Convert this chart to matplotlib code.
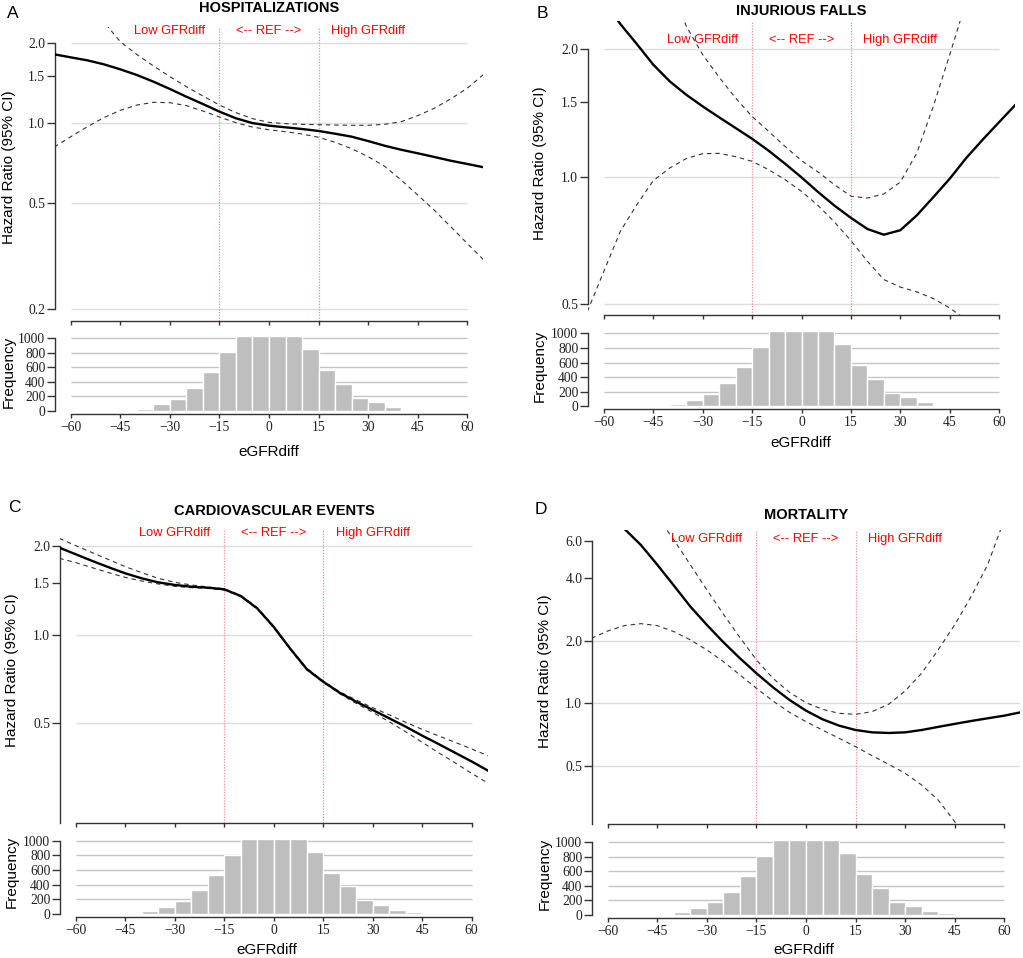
import numpy as np
import matplotlib
matplotlib.use('Agg')
import matplotlib.pyplot as plt
from matplotlib.ticker import NullLocator

W, H = 1023, 958

# eGFRdiff grid at which the curves were read
x_grid = [-65, -60, -55, -50, -45, -40, -35, -30, -25, -20, -15, -10, -5, 0,
          5, 10, 15, 20, 25, 30, 35, 40, 45, 50, 55, 60, 65]

# histogram of eGFRdiff (same in every panel)
hist_edges = [-45, -40, -35, -30, -25, -20, -15, -10, -5, 0, 5, 10, 15, 20, 25, 30, 35, 40, 45]
hist_counts = [10, 35, 92, 170, 320, 535, 808, 1030, 1030, 1030, 1030, 850, 560, 375, 183, 123, 55, 18]

# A - hospitalizations
hosp_hr = [1.813, 1.766, 1.721, 1.663, 1.592, 1.516, 1.431, 1.343, 1.256, 1.179, 1.104, 1.042, 1.0, 0.978,
           0.964, 0.950, 0.934, 0.912, 0.889, 0.856, 0.822, 0.794, 0.770, 0.746, 0.722, 0.702, 0.682]
hosp_hi = [3.8, 3.3, 2.85, 2.4, 2.02, 1.81, 1.64, 1.494, 1.370, 1.264, 1.169, 1.094, 1.039, 1.006,
           0.995, 0.989, 0.986, 0.983, 0.981, 0.981, 0.989, 1.012, 1.066, 1.136, 1.232, 1.351, 1.525]
hosp_lo = [0.813, 0.889, 0.969, 1.048, 1.117, 1.169, 1.197, 1.193, 1.163, 1.110, 1.054, 1.003, 0.966, 0.944,
           0.928, 0.910, 0.884, 0.847, 0.801, 0.748, 0.688, 0.611, 0.537, 0.471, 0.408, 0.353, 0.306]

# B - injurious falls
falls_hr = [2.95, 2.6, 2.296, 2.059, 1.840, 1.680, 1.562, 1.466, 1.381, 1.303, 1.229, 1.152, 1.073, 0.996,
            0.920, 0.854, 0.799, 0.752, 0.729, 0.747, 0.810, 0.894, 0.989, 1.107, 1.223, 1.346, 1.480]
falls_hi = [6.6, 5.8, 5.0, 4.3, 3.6, 2.9, 2.27, 1.943, 1.718, 1.534, 1.388, 1.280, 1.179, 1.091,
            1.026, 0.957, 0.899, 0.890, 0.910, 0.971, 1.137, 1.466, 1.943, 2.6, 3.4, 4.3, 5.4]
falls_lo = [0.48, 0.597, 0.742, 0.858, 0.978, 1.048, 1.103, 1.133, 1.135, 1.115, 1.087, 1.039, 0.984, 0.923,
            0.855, 0.781, 0.706, 0.631, 0.571, 0.548, 0.534, 0.515, 0.489, 0.459, 0.42, 0.38, 0.34]

# C - cardiovascular events
cv_hr = [1.974, 1.874, 1.779, 1.693, 1.615, 1.553, 1.505, 1.475, 1.455, 1.444, 1.425, 1.353, 1.228, 1.062,
         0.896, 0.764, 0.692, 0.635, 0.592, 0.555, 0.520, 0.487, 0.454, 0.425, 0.397, 0.371, 0.345]
cv_hi = [2.123, 2.005, 1.898, 1.797, 1.702, 1.623, 1.553, 1.505, 1.475, 1.452, 1.432, 1.360, 1.235, 1.068,
         0.901, 0.769, 0.696, 0.640, 0.600, 0.565, 0.534, 0.504, 0.477, 0.453, 0.431, 0.409, 0.388]
cv_lo = [1.816, 1.756, 1.688, 1.623, 1.565, 1.521, 1.486, 1.459, 1.444, 1.436, 1.418, 1.346, 1.221, 1.056,
         0.891, 0.759, 0.689, 0.630, 0.584, 0.545, 0.506, 0.468, 0.431, 0.397, 0.367, 0.338, 0.313]

# D - mortality
mort_hr = [9.5, 8.0, 6.9, 5.77, 4.63, 3.68, 2.915, 2.380, 1.965, 1.646, 1.394, 1.194, 1.038, 0.922,
           0.838, 0.781, 0.744, 0.725, 0.720, 0.725, 0.744, 0.770, 0.796, 0.822, 0.847, 0.872, 0.905]
mort_hi = [18.0, 15.0, 12.5, 10.0, 7.9, 6.10, 4.63, 3.51, 2.68, 2.07, 1.616, 1.319, 1.129, 1.007,
           0.936, 0.895, 0.885, 0.912, 0.989, 1.146, 1.394, 1.805, 2.380, 3.26, 4.63, 7.61, 9.5]
mort_lo = [2.054, 2.227, 2.363, 2.415, 2.363, 2.211, 2.017, 1.805, 1.586, 1.369, 1.181, 1.026, 0.905, 0.816,
           0.744, 0.679, 0.619, 0.560, 0.509, 0.461, 0.405, 0.343, 0.270, 0.21, 0.17, 0.14, 0.11]

titles = ['HOSPITALIZATIONS', 'INJURIOUS FALLS', 'CARDIOVASCULAR EVENTS', 'MORTALITY']
letters = ['A', 'B', 'C', 'D']
curves = [(hosp_hr, hosp_hi, hosp_lo), (falls_hr, falls_hi, falls_lo),
          (cv_hr, cv_hi, cv_lo), (mort_hr, mort_hi, mort_lo)]
zone_labels = ['Low GFRdiff', '<-- REF -->', 'High GFRdiff']
zone_pos = [-30, 0, 30]
freq_ticks = [0, 200, 400, 600, 800, 1000]
freq_grid = [200, 400, 600, 800, 1000]

# layout of each panel, in pixels of the 1023x958 picture
panels = [
    dict(l=55, r=483, top=27, bot=321, ref=2.0, ref_px=43, dec=266,
         ticks=[0.2, 0.5, 1.0, 1.5, 2.0], grid=[0.2, 0.5, 1.0, 2.0], spine=(0.2, 2.0), gfull=False,
         txt_y=2.21, h_top=335, h_bot=414, title=(269, 8), letter=(13, 14),
         ylab=(9, 167), flab=(9, 372), xlab=(269, 452)),
    dict(l=588, r=1015, top=21, bot=315, ref=2.0, ref_px=49.3, dec=423,
         ticks=[0.5, 1.0, 1.5, 2.0], grid=[0.5, 1.0, 2.0], spine=(0.5, 2.0), gfull=False,
         txt_y=2.10, h_top=330.4, h_bot=409.3, title=(801, 11), letter=(542, 14),
         ylab=(540, 163), flab=(540, 366), xlab=(801, 443)),
    dict(l=60, r=487.5, top=529, bot=822.7, ref=2.0, ref_px=546, dec=294.5,
         ticks=[0.5, 1.0, 1.5, 2.0], grid=[0.5, 1.0, 2.0], spine=(None, 2.0), gfull=False,
         txt_y=2.21, h_top=838, h_bot=916.7, title=(274, 511), letter=(14, 508),
         ylab=(12, 670), flab=(12, 872), xlab=(267, 950)),
    dict(l=592, r=1020, top=530, bot=824.3, ref=1.0, ref_px=703.3, dec=208,
         ticks=[0.5, 1.0, 2.0, 4.0, 6.0], grid=[0.5, 1.0, 2.0], spine=(None, 6.0), gfull=True,
         txt_y=6.17, h_top=839.4, h_bot=917.7, title=(806, 515), letter=(541, 509),
         ylab=(545, 671), flab=(545, 874), xlab=(804, 950)),
]

plt.rcParams['font.family'] = ['Liberation Sans', 'DejaVu Sans']
SERIF = 'Liberation Serif'
AXCOL = '#333333'
TICKFS = 9.8

fig = plt.figure(figsize=(W / 100, H / 100), dpi=100)


def px_axes(l, top, r, bot):
    return fig.add_axes([l / W, 1 - bot / H, (r - l) / W, (bot - top) / H])


def fig_text(x, y, s, **kw):
    fig.text(x / W, 1 - y / H, s, ha='center', va='center', **kw)


def style_axes(ax, ybounds):
    for side in ('top', 'right'):
        ax.spines[side].set_visible(False)
    ax.spines['left'].set_bounds(*ybounds)
    ax.spines['bottom'].set_bounds(-60, 60)
    for side in ('left', 'bottom'):
        ax.spines[side].set_color(AXCOL)
        ax.spines[side].set_linewidth(1)
    ax.tick_params(axis='y', length=6, width=1, color=AXCOL, pad=1, labelsize=TICKFS,
                   labelfontfamily=SERIF, labelcolor='#222222')
    ax.tick_params(axis='x', length=3, width=1, color=AXCOL, pad=2, labelsize=TICKFS,
                   labelfontfamily=SERIF, labelcolor='#222222')
    ax.patch.set_alpha(0)


for p, (fit, hi, lo), title, letter in zip(panels, curves, titles, letters):
    # ---- hazard ratio curve ----
    ax = px_axes(p['l'], p['top'], p['r'], p['bot'])
    ax.set_yscale('log')
    y0 = 10 ** (np.log10(p['ref']) - (p['bot'] - p['ref_px']) / p['dec'])
    y1 = 10 ** (np.log10(p['ref']) + (p['ref_px'] - p['top']) / p['dec'])
    ax.set_xlim(-64.8, 64.8)
    ax.set_ylim(y0, y1)
    gx = (-64.8, 64.8) if p['gfull'] else (-60, 60)
    ax.hlines(p['grid'], gx[0], gx[1], color='#dcdcdc', lw=1, zorder=0)
    for xv in (-15, 15):
        ax.axvline(xv, color='#ff8c8c', lw=0.9, ls=(0, (1, 1.2)), zorder=1)
    ax.plot(x_grid, hi, color='#333333', lw=0.8, ls=(0, (4, 3.5)), zorder=2)
    ax.plot(x_grid, lo, color='#333333', lw=0.8, ls=(0, (4, 3.5)), zorder=2)
    ax.plot(x_grid, fit, color='black', lw=1.7, zorder=3, solid_joinstyle='round')
    for s, xp in zip(zone_labels, zone_pos):
        ax.text(xp, p['txt_y'], s, color='red', ha='center', va='center', fontsize=9.3)
    ax.set_yticks(p['ticks'])
    ax.set_yticklabels(['%.1f' % t for t in p['ticks']])
    ax.yaxis.set_minor_locator(NullLocator())
    ax.set_xticks(range(-60, 61, 15))
    ax.set_xticklabels([])
    style_axes(ax, (p['spine'][0] if p['spine'][0] else y0, p['spine'][1]))

    # ---- frequency histogram ----
    hx = px_axes(p['l'], p['h_top'], p['r'], p['h_bot'])
    hx.set_xlim(-64.8, 64.8)
    hx.set_ylim(-40, 1040)
    hx.hlines(freq_grid, -60, 60, color='#c4c4c4', lw=1, zorder=0)
    hx.bar(hist_edges[:-1], hist_counts, width=5, align='edge', color='#bebebe',
           edgecolor='white', lw=1, zorder=2)
    hx.set_yticks(freq_ticks)
    hx.set_xticks(range(-60, 61, 15))
    style_axes(hx, (0, 1000))

    # ---- labels ----
    fig_text(*p['title'], title, fontsize=10.5, fontweight='bold')
    fig_text(*p['letter'], letter, fontsize=12.5)
    fig_text(*p['ylab'], 'Hazard Ratio (95% CI)', fontsize=11, rotation=90)
    fig_text(*p['flab'], 'Frequency', fontsize=11, rotation=90)
    fig_text(*p['xlab'], 'eGFRdiff', fontsize=11)

fig.savefig('out.png', dpi=100)
